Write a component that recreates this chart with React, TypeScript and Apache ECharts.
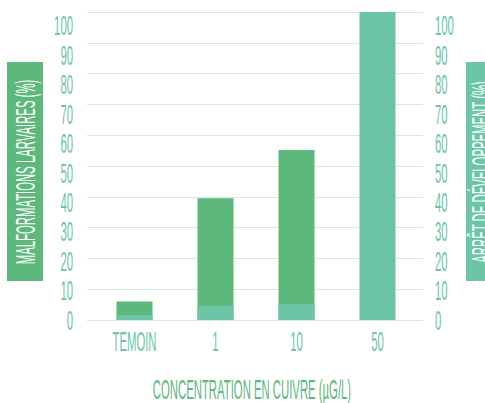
import React, { useEffect, useRef } from 'react';
import * as echarts from 'echarts';

const categories = ['TEMOIN', '1', '10', '50'];
const malformations = [6, 39.5, 55.2, 0];
const arretDeveloppement = [1.6, 4.6, 5.3, 100];
const yTicks = [0, 10, 20, 30, 40, 50, 60, 70, 80, 90, 100];
const leftTitle = 'MALFORMATIONS LARVAIRES (%)';
const rightTitle = 'ARRÊT DE DÉVELOPPEMENT (%)';
const xTitle = 'CONCENTRATION EN CUIVRE (µG/L)';

const DARK = '#5db87b';
const TEAL = '#6cc6a6';
const GRID = '#cfeae0';
const FONT = '"Liberation Sans", Arial, sans-serif';
const FS = 27;
const SX = 0.42;

function txt(text: string, x: number, y: number, fill: string, align: string, rotation = 0) {
  return {
    type: 'text',
    x,
    y,
    rotation,
    scaleX: SX,
    scaleY: 1,
    silent: true,
    style: {
      text,
      fill,
      fontSize: FS,
      fontFamily: FONT,
      align,
      verticalAlign: 'middle',
      textAlign: align,
      textVerticalAlign: 'middle',
      shadowColor: fill,
      shadowBlur: 0,
      shadowOffsetX: 0.7,
      shadowOffsetY: 0,
    },
  };
}

export default function App() {
  const ref = useRef<HTMLDivElement>(null);
  useEffect(() => {
    const chart = echarts.init(ref.current!, null, { renderer: 'svg' });
    const option: any = {
      animation: false,
      grid: [
        { left: 87, right: 62, top: 12, bottom: 83 },
        { left: 94, right: 67, top: 12, bottom: 83 },
        { left: 87, right: 62, top: 25.5, bottom: 83 },
      ],
      xAxis: [
        { gridIndex: 0, type: 'category', data: categories, show: false },
        {
          gridIndex: 1,
          type: 'category',
          data: categories,
          axisLine: { show: false },
          axisTick: { show: false },
          axisLabel: { show: false },
        },
        { gridIndex: 2, type: 'category', data: categories, show: false },
      ],
      yAxis: [
        {
          gridIndex: 0,
          type: 'value',
          min: 0,
          max: 100,
          interval: 10,
          axisLabel: { show: false },
          axisLine: { show: false },
          axisTick: { show: false },
          splitLine: { lineStyle: { color: GRID, width: 1 } },
        },
        { gridIndex: 1, type: 'value', min: 0, max: 100, show: false, splitLine: { show: false } },
        { gridIndex: 1, type: 'value', min: 0, max: 100, show: false, position: 'right', splitLine: { show: false } },
        { gridIndex: 2, type: 'value', min: 0, max: 100, interval: 10, show: false, splitLine: { show: false } },
      ],
      series: [
        {
          type: 'bar',
          name: 'Malformations larvaires',
          xAxisIndex: 1,
          yAxisIndex: 1,
          data: malformations,
          barWidth: 36,
          barGap: '-100%',
          itemStyle: { color: DARK },
        },
        {
          type: 'bar',
          name: 'Arrêt de développement',
          xAxisIndex: 1,
          yAxisIndex: 2,
          data: arretDeveloppement,
          barWidth: 36,
          barGap: '-100%',
          itemStyle: { color: TEAL },
        },
      ],
    };
    chart.setOption(option);

    const elements: any[] = [];
    elements.push({ type: 'rect', shape: { x: 7, y: 62, width: 36, height: 219 }, style: { fill: DARK }, silent: true });
    elements.push({ type: 'rect', shape: { x: 466, y: 62, width: 40, height: 219 }, style: { fill: TEAL }, silent: true });
    elements.push(txt(leftTitle, 25, 172, '#ffffff', 'center', Math.PI / 2));
    elements.push(txt(rightTitle, 481, 172, '#ffffff', 'center', Math.PI / 2));
    yTicks.forEach((v) => {
      const y = chart.convertToPixel({ yAxisIndex: 3 }, v) as number;
      elements.push(txt(String(v), 73, y, TEAL, 'right'));
      elements.push(txt(String(v), 435, y, TEAL, 'left'));
    });
    categories.forEach((c) => {
      const x = chart.convertToPixel({ xAxisIndex: 1 }, c) as number;
      elements.push(txt(c, x, 341, TEAL, 'center'));
    });
    elements.push(txt(xTitle, 252, 389, DARK, 'center'));
    chart.setOption({ graphic: { elements } });

    return () => chart.dispose();
  }, []);
  return <div ref={ref} style={{ position: 'fixed', left: 0, top: 0, width: 485, height: 403, background: '#fff' }} />;
}
